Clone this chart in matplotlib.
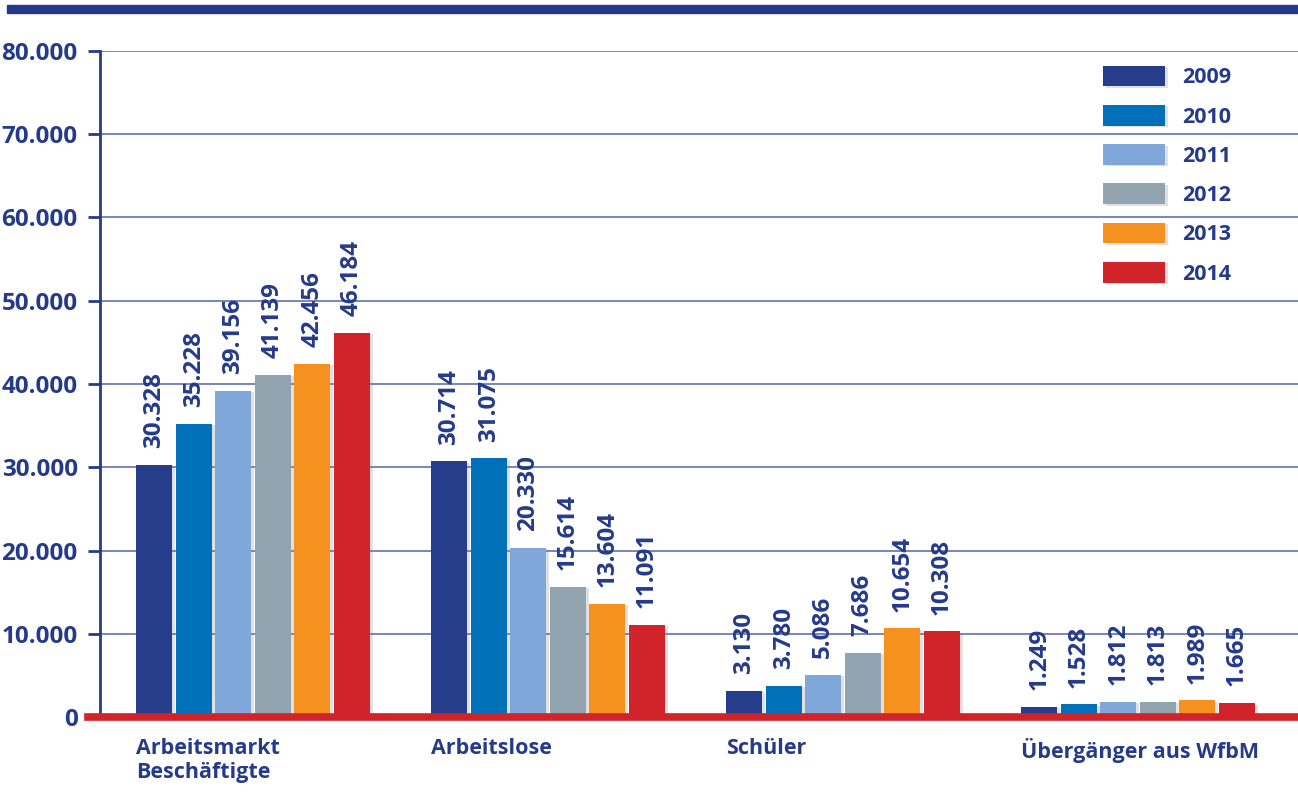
import matplotlib
matplotlib.use("Agg")
import matplotlib.pyplot as plt
import numpy as np
from matplotlib.patches import Rectangle
from matplotlib.ticker import FuncFormatter, MultipleLocator
import matplotlib.patheffects as pe

plt.rcParams["font.family"] = ["Open Sans", "DejaVu Sans"]
plt.rcParams["font.weight"] = "bold"

categories = ["Arbeitsmarkt\nBeschäftigte", "Arbeitslose", "Schüler", "Übergänger aus WfbM"]
years = ["2009", "2010", "2011", "2012", "2013", "2014"]
values = {
    "2009": [30328, 30714, 3130, 1249],
    "2010": [35228, 31075, 3780, 1528],
    "2011": [39156, 20330, 5086, 1812],
    "2012": [41139, 15614, 7686, 1813],
    "2013": [42456, 13604, 10654, 1989],
    "2014": [46184, 11091, 10308, 1665],
}
colors = ["#263d8b", "#0071b9", "#7fa7d9", "#91a4af", "#f5921f", "#d1232a"]

navy = "#253b8a"
grid_col = "#6c7cb4"


def thousands(v, pos=None):
    return f"{int(v):,}".replace(",", ".")


fig = plt.figure(figsize=(12.98, 7.92), dpi=100)
ax = fig.add_axes([100 / 1298, 1 - 717 / 792, 1198 / 1298, 666 / 792])

# top band
fig.patches.append(Rectangle((7 / 1298, 1 - 13 / 792), 1, 8 / 792,
                             transform=fig.transFigure, color=navy, zorder=5))

x = np.arange(len(categories))
step = 0.134
width = 0.122
shadow = [pe.SimplePatchShadow(offset=(2, -1), shadow_rgbFace="#888888", alpha=0.25), pe.Normal()]

for j, (year, col) in enumerate(zip(years, colors)):
    pos = x + (j - 2.5) * step
    bars = ax.bar(pos, values[year], width=width, color=col, label=year, zorder=3,
                  path_effects=shadow)
    for b, v in zip(bars, values[year]):
        ax.annotate(thousands(v), (b.get_x() + b.get_width() / 2, v),
                    xytext=(0, 12), textcoords="offset points",
                    rotation=90, ha="center", va="bottom",
                    fontsize=17.5, fontweight="bold", color=navy, zorder=4)

ax.set_xlim(-0.519, 3.542)
ax.set_ylim(0, 80000)
ax.yaxis.set_major_locator(MultipleLocator(10000))
ax.yaxis.set_major_formatter(FuncFormatter(thousands))
ax.grid(axis="y", color=grid_col, lw=1.3, zorder=1)
ax.set_axisbelow(True)

for s in ["top", "right", "bottom"]:
    ax.spines[s].set_visible(False)
ax.spines["left"].set_color(navy)
ax.spines["left"].set_linewidth(2)

ax.tick_params(axis="y", length=9, width=2, color=navy, labelcolor=navy,
               labelsize=17.5, pad=7)
for lbl in ax.get_yticklabels():
    lbl.set_fontweight("bold")

# category labels left-aligned to the first bar of each group
ax.set_xticks(x - 2.5 * step - width / 2)
ax.set_xticklabels(categories, ha="left", fontsize=15.5, fontweight="bold",
                   color=navy, linespacing=1.2)
ax.tick_params(axis="x", length=0, pad=15)

# red baseline
ax.axhline(0, xmin=-0.01, xmax=1, color="#d1232a", lw=5.5, clip_on=False, zorder=6)

leg = ax.legend(loc="upper left", bbox_to_anchor=(1092 / 1298, 1 - 55 / 792),
                bbox_transform=fig.transFigure, frameon=False, borderpad=0,
                handlelength=2.9, handleheight=1.1, handletextpad=0.8,
                labelspacing=0.77, prop={"size": 15.5, "weight": "bold"})
for t in leg.get_texts():
    t.set_color(navy)

fig.savefig("out.png", dpi=100)
